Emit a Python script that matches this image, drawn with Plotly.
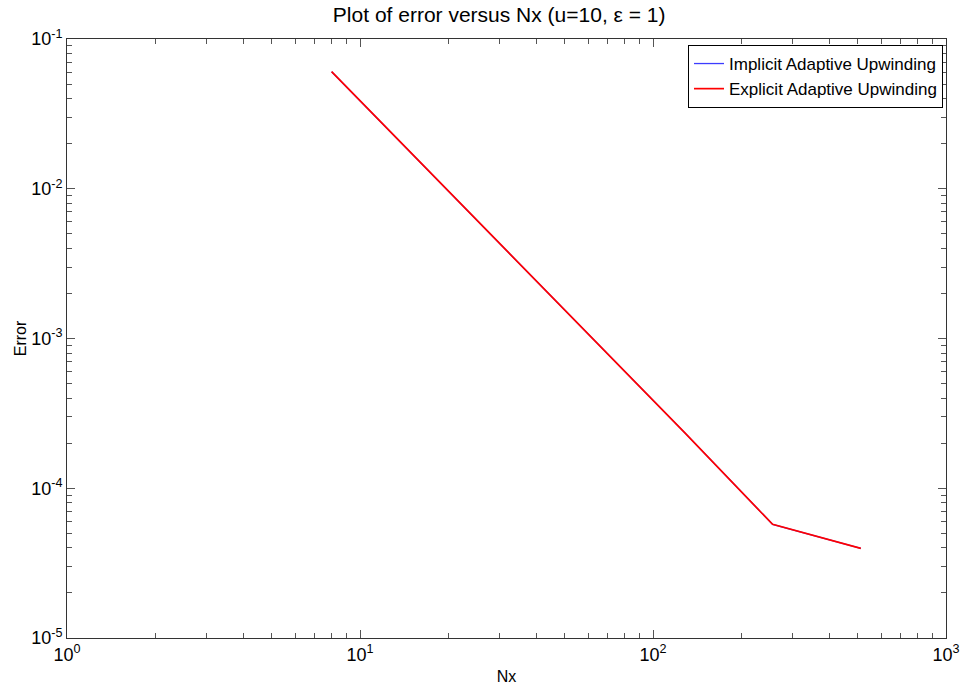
import plotly.graph_objects as go

# Grid sizes and measured errors
nx = [8, 16, 32, 64, 128, 256, 512]
err_implicit = [6.05e-2, 1.51e-2, 3.78e-3, 9.45e-4, 2.36e-4, 5.74e-5, 3.97e-5]
err_explicit = [6.05e-2, 1.51e-2, 3.78e-3, 9.45e-4, 2.36e-4, 5.74e-5, 3.97e-5]

x_major = [1, 10, 100, 1000]
x_labels = ["10<sup>0</sup>", "10<sup>1</sup>", "10<sup>2</sup>", "10<sup>3</sup>"]
y_major = [1e-5, 1e-4, 1e-3, 1e-2, 1e-1]
y_labels = ["10<sup>-5</sup>", "10<sup>-4</sup>", "10<sup>-3</sup>", "10<sup>-2</sup>", "10<sup>-1</sup>"]

x_minor = [m * 10 ** e for e in range(0, 3) for m in range(2, 10)]
y_minor = [m * 10.0 ** e for e in range(-5, -1) for m in range(2, 10)]

FONT = "Liberation Sans, Arial, sans-serif"

fig = go.Figure()
fig.add_trace(go.Scatter(x=nx, y=err_implicit, mode="lines",
                         name="Implicit Adaptive Upwinding",
                         line=dict(color="#3c3cff", width=1.3)))
fig.add_trace(go.Scatter(x=nx, y=err_explicit, mode="lines",
                         name="Explicit Adaptive Upwinding",
                         line=dict(color="#ff0000", width=1.7)))

axis_common = dict(
    showgrid=False, zeroline=False, showline=True, linecolor="#333333",
    linewidth=1, mirror="ticks", ticks="inside", ticklen=8, tickcolor="#555555",
    tickfont=dict(family=FONT, size=18, color="#000000"),
    automargin=False,
)

fig.update_xaxes(type="log", range=[0, 3], tickvals=x_major, ticktext=x_labels,
                 minor=dict(tickvals=x_minor, ticks="inside", ticklen=5, tickcolor="#555555"),
                 title=dict(text="Nx", font=dict(family=FONT, size=16, color="#000"), standoff=14),
                 **axis_common)
fig.update_yaxes(type="log", range=[-5, -1], tickvals=y_major, ticktext=y_labels,
                 minor=dict(tickvals=y_minor, ticks="inside", ticklen=5, tickcolor="#555555"),
                 title=dict(text="Error", font=dict(family=FONT, size=16, color="#000"), standoff=0),
                 **axis_common)

fig.update_layout(
    width=960, height=685,
    margin=dict(l=67, r=14, t=39, b=47),
    paper_bgcolor="white", plot_bgcolor="white",
    title=dict(text="Plot of error versus Nx (u=10, \u03b5 = 1)", x=0.52, xanchor="center",
               y=0.989, yanchor="top",
               font=dict(family=FONT, size=21, color="#000"), automargin=False),
    legend=dict(x=0.9966, y=0.99, xanchor="right", yanchor="top",
                bordercolor="#000000", borderwidth=1, bgcolor="white",
                font=dict(family=FONT, size=17, color="#000"),
                tracegroupgap=0, itemwidth=30),
    showlegend=True,
)

fig.write_html("out.html")
